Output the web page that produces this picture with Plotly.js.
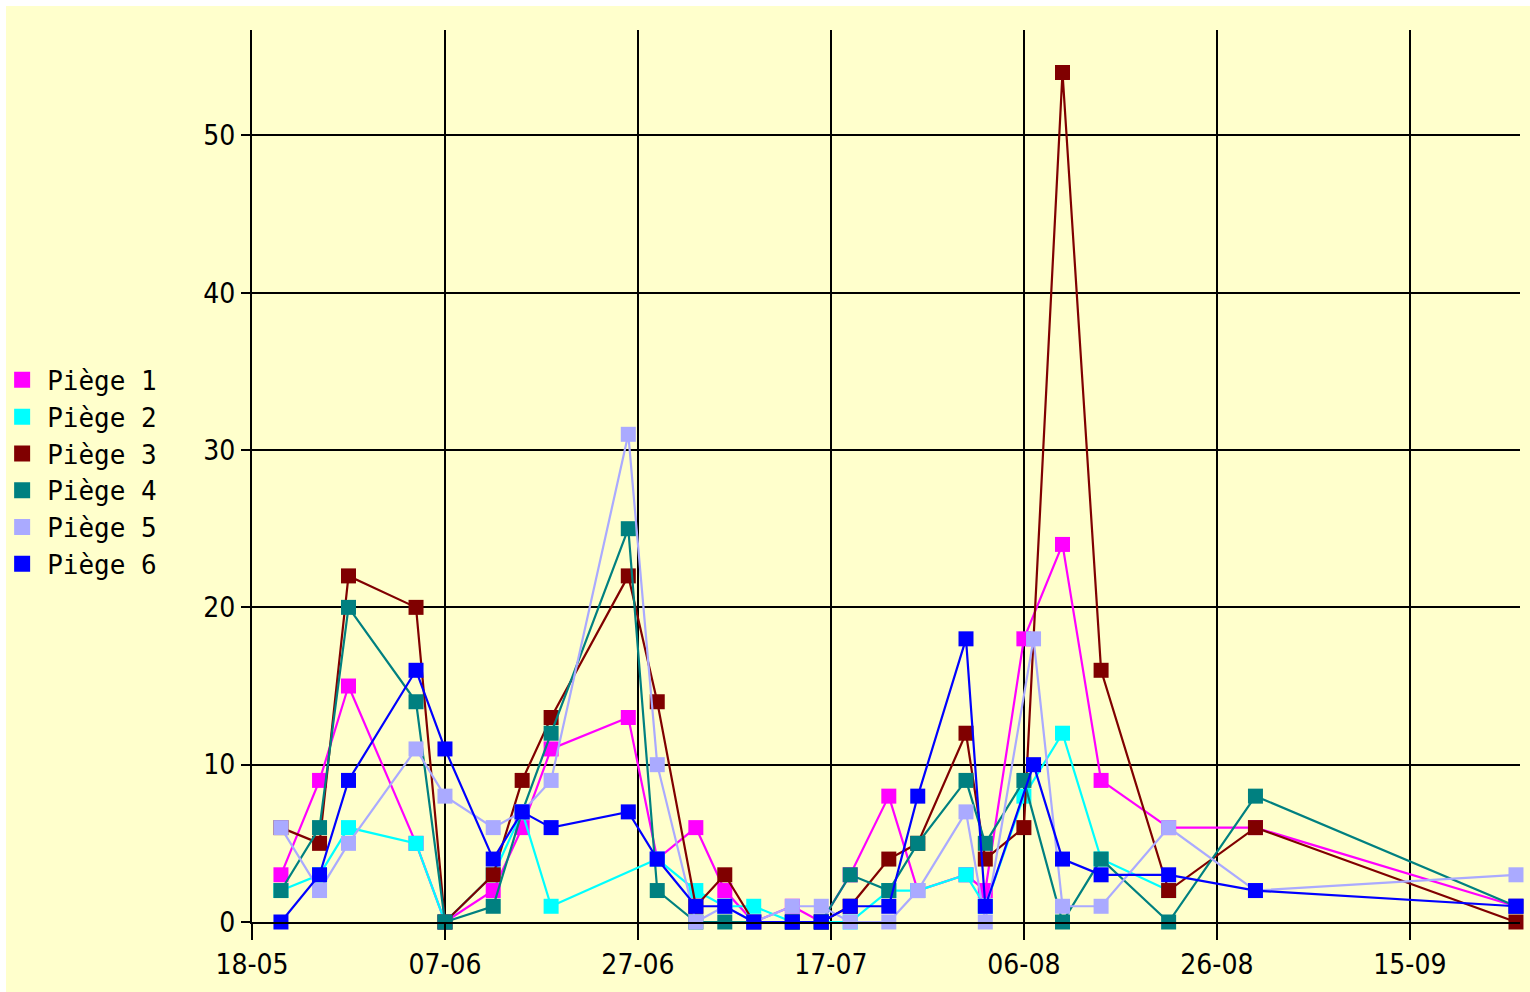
<!DOCTYPE html>
<html>
<head>
<meta charset="utf-8">
<script src="https://cdn.plot.ly/plotly-3.0.1.min.js"></script>
<style>
html,body{margin:0;padding:0;background:#ffffff;overflow:hidden;}
#chart{position:absolute;left:6px;top:6px;width:1524px;height:986px;}
</style>
</head>
<body>
<div id="chart"></div>
<script>
const dates = ['2010-05-21','2010-05-25','2010-05-28','2010-06-04','2010-06-07','2010-06-12','2010-06-15','2010-06-18','2010-06-26','2010-06-29','2010-07-03','2010-07-06','2010-07-09','2010-07-13','2010-07-16','2010-07-19','2010-07-23','2010-07-26','2010-07-31','2010-08-02','2010-08-06','2010-08-07','2010-08-10','2010-08-14','2010-08-21','2010-08-30','2010-09-26'];

const piege1 = [3,9,15,5,0, 2,6,11,13,4, 6,2,0,1,0, 3,8,2,3,2, 18,null,24,9,6, 6,1];
const piege2 = [2,3,6,5,0, 3,7,1,null,4, 2,1,1,0,0, 0,2,2,3,1, 8,null,12,4,2, null,null];
const piege3 = [6,5,22,20,0, 3,9,13,22,14, 1,3,0,0,0, 1,4,5,12,4, 6,null,54,16,2, 6,0];
const piege4 = [2,6,20,14,0, 1,7,12,25,2, 0,0,0,0,0, 3,2,5,9,5, 9,null,0,4,0, 8,1];
const piege5 = [6,2,5,11,8, 6,7,9,31,10, 0,1,0,1,1, 0,0,2,7,0, null,18,1,1,6, 2,3];
const piege6 = [0,3,9,16,11, 4,7,6,7,4, 1,1,0,0,0, 1,1,8,18,1, null,10,4,3,3, 2,1];

const seriesNames = ['Piège 1','Piège 2','Piège 3','Piège 4','Piège 5','Piège 6'];
const seriesValues = [piege1, piege2, piege3, piege4, piege5, piege6];
const seriesColors = ['#ff00ff','#00ffff','#800000','#008080','#aaaaff','#0000ff'];

const traces = [];
seriesValues.forEach((vals, i) => {
  traces.push({
    type: 'scatter', mode: 'lines+markers',
    x: dates, y: vals, name: seriesNames[i],
    connectgaps: true, cliponaxis: false, showlegend: false,
    line: {color: seriesColors[i], width: 2.2},
    marker: {symbol: 'square', size: 15, color: seriesColors[i], line: {width: 0}}
  });
});
seriesNames.forEach((n, i) => {
  traces.push({
    type: 'scatter', mode: 'markers', x: [null], y: [null], name: n,
    showlegend: true,
    marker: {symbol: 'square', size: 18, color: seriesColors[i], line: {width: 0}}
  });
});

const tickFont = {family: 'DejaVu Sans Condensed, DejaVu Sans, sans-serif', size: 28, color: '#000'};

const layout = {
  width: 1524, height: 986,
  paper_bgcolor: '#ffffcc', plot_bgcolor: '#ffffcc',
  margin: {l: 246, r: 10, t: 24, b: 70, autoexpand: false},
  showlegend: true,
  legend: {
    x: -0.201, xanchor: 'left', y: 0.634, yanchor: 'top',
    bgcolor: 'rgba(0,0,0,0)', borderwidth: 0,
    font: {family: 'DejaVu Sans Mono, monospace', size: 26, color: '#000'},
    itemwidth: 40
  },
  xaxis: {
    type: 'date',
    range: ['2010-05-18', '2010-09-26 10:00'],
    tick0: '2010-05-18', dtick: 20*86400000,
    tickformat: '%d-%m',
    showgrid: true, gridcolor: '#000', gridwidth: 2,
    ticks: 'outside', ticklen: 16, tickwidth: 2, tickcolor: '#000',
    showline: true, linecolor: '#000', linewidth: 2,
    zeroline: false,
    tickfont: tickFont
  },
  yaxis: {
    range: [0, 56.7],
    tick0: 0, dtick: 10,
    showgrid: true, gridcolor: '#000', gridwidth: 2,
    ticks: 'outside', ticklen: 9, tickwidth: 2, tickcolor: '#000',
    showline: true, linecolor: '#000', linewidth: 2,
    zeroline: false,
    tickfont: tickFont
  }
};

Plotly.newPlot('chart', traces, layout, {displayModeBar: false, staticPlot: true});
</script>
</body>
</html>
